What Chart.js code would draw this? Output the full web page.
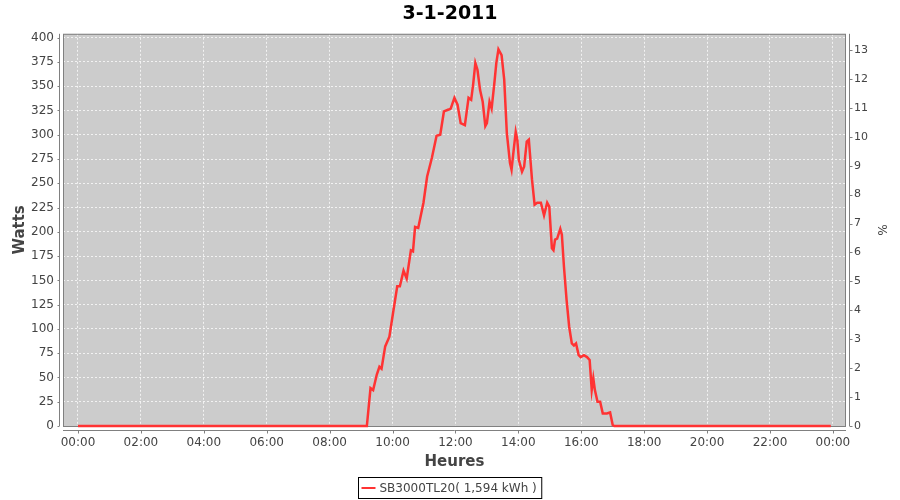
<!DOCTYPE html>
<html lang="fr">
<head>
    <meta charset="UTF-8">
    <title>3-1-2011</title>
    <script src="https://cdn.jsdelivr.net/npm/chart.js"></script>
    <style>
        html, body { margin: 0; padding: 0; background: #ffffff; }
        #wrap { width: 900px; height: 500px; }
    </style>
</head>
<body>
<div id="wrap"><canvas id="powerChart" width="900" height="500"></canvas></div>

<script>
    // Data: minutes since midnight, watts
    const chartTitle = '3-1-2011';
    const seriesName = 'SB3000TL20( 1,594 kWh )';
    const minutes = [0, 551, 558, 563, 570, 575, 579, 586, 594, 602, 609, 614, 621, 627, 635, 639, 643, 649, 659, 666, 675,
        684, 691, 698, 707, 711, 718, 724, 730, 738, 745, 750, 754, 758, 762, 767, 772, 777, 780, 785, 789, 794, 798,
        802, 808, 813, 818, 824, 827, 831, 835, 838, 841, 847, 851, 856, 860, 866, 871, 876, 883, 889, 895, 899, 904,
        907, 910, 914, 920, 923, 927, 932, 937, 942, 946, 950, 955, 959, 965, 971, 976, 980, 983, 986, 991, 996, 1001,
        1009, 1015, 1020, 1023, 1436];
    const watts = [0, 0, 39, 37, 53, 61, 59, 82, 92, 120, 144, 144, 160, 152, 181, 180, 205, 204, 230, 257, 276,
        299, 300, 324, 326, 327, 338, 331, 312, 310, 338, 336, 353, 374, 367, 346, 334, 309, 312, 334, 327, 352, 374,
        388, 382, 357, 302, 271, 264, 284, 303, 295, 274, 262, 267, 293, 295, 254, 228, 230, 230, 217, 230, 226, 183,
        181, 192, 193, 203, 197, 164, 130, 102, 85, 83, 85, 73, 71, 73, 71, 68, 37, 49, 37, 25, 25, 13,
        13, 14, 1, 0, 0];
    const hourTicks = [0, 120, 240, 360, 480, 600, 720, 840, 960, 1080, 1200, 1320, 1440];
    const wattTicks = [0, 25, 50, 75, 100, 125, 150, 175, 200, 225, 250, 275, 300, 325, 350, 375, 400];
    const pctTicks = [0, 1, 2, 3, 4, 5, 6, 7, 8, 9, 10, 11, 12, 13];

    const FONT = "'DejaVu Sans', sans-serif";
    const points = minutes.map((m, i) => ({ x: m, y: watts[i] }));

    function hhmm(v) {
        const m = ((v % 1440) + 1440) % 1440;
        const h = Math.floor(m / 60);
        const mm = m % 60;
        return String(h).padStart(2, '0') + ':' + String(mm).padStart(2, '0');
    }

    // plot background, border, offset axis lines, tick marks and legend box
    const plotDecor = {
        id: 'plotDecor',
        beforeDraw(chart) {
            const { ctx, chartArea: a } = chart;
            ctx.save();
            ctx.fillStyle = '#cccccc';
            ctx.fillRect(a.left, a.top, a.right - a.left, a.bottom - a.top);
            ctx.restore();
        },
        beforeDatasetsDraw(chart) {
            const { ctx, chartArea: a, scales } = chart;
            ctx.save();
            ctx.strokeStyle = '#808080';
            ctx.lineWidth = 1;
            ctx.strokeRect(a.left + 0.5, a.top + 0.5, a.right - a.left - 1, a.bottom - a.top);

            // left axis
            const lx = a.left - 3.5;
            ctx.beginPath();
            ctx.moveTo(lx, a.top); ctx.lineTo(lx, a.bottom);
            wattTicks.forEach(t => {
                const y = Math.round(scales.y.getPixelForValue(t)) + 0.5;
                ctx.moveTo(lx - 2, y); ctx.lineTo(lx, y);
            });
            // right axis
            const rx = a.right + 3.5;
            ctx.moveTo(rx, a.top); ctx.lineTo(rx, a.bottom);
            pctTicks.forEach(t => {
                const y = Math.round(scales.y1.getPixelForValue(t)) + 0.5;
                ctx.moveTo(rx, y); ctx.lineTo(rx + 3, y);
            });
            // bottom axis
            const by = a.bottom + 4.5;
            ctx.moveTo(a.left, by); ctx.lineTo(a.right, by);
            hourTicks.forEach(t => {
                const x = Math.round(scales.x.getPixelForValue(t)) + 0.5;
                ctx.moveTo(x, by); ctx.lineTo(x, by + 3);
            });
            ctx.stroke();
            ctx.restore();
        },
        afterDraw(chart) {
            const { ctx } = chart;
            ctx.save();
            ctx.font = '12px ' + FONT;
            const tw = ctx.measureText(seriesName).width;
            const w = tw + 26;
            const x0 = Math.round(450 - w / 2) + 0.5;
            const y0 = 477.5;
            ctx.strokeStyle = '#000000';
            ctx.lineWidth = 1;
            ctx.strokeRect(x0, y0, w, 21);
            ctx.strokeStyle = '#ff3333';
            ctx.lineWidth = 2;
            ctx.beginPath();
            ctx.moveTo(x0 + 3, y0 + 10.5); ctx.lineTo(x0 + 17, y0 + 10.5);
            ctx.stroke();
            ctx.fillStyle = '#444444';
            ctx.textBaseline = 'middle';
            ctx.fillText(seriesName, x0 + 21, y0 + 11);
            ctx.restore();
        }
    };

    new Chart(document.getElementById('powerChart'), {
        type: 'line',
        data: {
            datasets: [{
                label: seriesName,
                data: points,
                borderColor: '#ff3333',
                borderWidth: 2.5,
                pointRadius: 0,
                tension: 0,
                fill: false,
                clip: 4,
                yAxisID: 'y'
            }]
        },
        options: {
            responsive: false,
            animation: false,
            layout: { padding: 0 },
            plugins: {
                legend: { display: false },
                tooltip: { enabled: false },
                title: {
                    display: true,
                    text: chartTitle,
                    color: '#000000',
                    font: { family: FONT, size: 19, weight: 'bold' },
                    padding: { top: 3, bottom: 8 }
                }
            },
            scales: {
                x: {
                    type: 'linear',
                    min: -28.6,
                    max: 1465,
                    afterFit(s) { s.height = 74; },
                    afterBuildTicks(s) { s.ticks = hourTicks.map(v => ({ value: v })); },
                    grid: {
                        color: 'rgba(255,255,255,0.75)',
                        drawTicks: false
                    },
                    border: { display: false, dash: [2, 2] },
                    ticks: {
                        padding: 10,
                        maxRotation: 0,
                        autoSkip: false,
                        color: '#444444',
                        font: { family: FONT, size: 12 },
                        callback: v => hhmm(v)
                    },
                    title: {
                        display: true,
                        text: 'Heures',
                        color: '#444444',
                        font: { family: FONT, size: 15, weight: 'bold' },
                        padding: { top: 0, bottom: 29 }
                    }
                },
                y: {
                    position: 'left',
                    min: 0,
                    max: 404,
                    afterFit(s) { s.width = 63; },
                    afterBuildTicks(s) { s.ticks = wattTicks.map(v => ({ value: v })); },
                    grid: {
                        color: 'rgba(255,255,255,0.75)',
                        drawTicks: false
                    },
                    border: { display: false, dash: [2, 2] },
                    ticks: {
                        padding: 9,
                        color: '#444444',
                        font: { family: FONT, size: 12 }
                    },
                    title: {
                        display: true,
                        text: 'Watts',
                        color: '#444444',
                        font: { family: FONT, size: 15, weight: 'bold' },
                        padding: { top: 11, bottom: 0 }
                    }
                },
                y1: {
                    position: 'right',
                    min: 0,
                    max: 13.56,
                    afterFit(s) { s.width = 54; },
                    afterBuildTicks(s) { s.ticks = pctTicks.map(v => ({ value: v })); },
                    grid: { drawOnChartArea: false, drawTicks: false },
                    border: { display: false },
                    ticks: {
                        padding: 8,
                        color: '#444444',
                        font: { family: FONT, size: 11 }
                    },
                    title: {
                        display: true,
                        text: '%',
                        color: '#444444',
                        font: { family: FONT, size: 12 },
                        padding: { top: 12, bottom: 0 }
                    }
                }
            }
        },
        plugins: [plotDecor]
    });
</script>
</body>
</html>
